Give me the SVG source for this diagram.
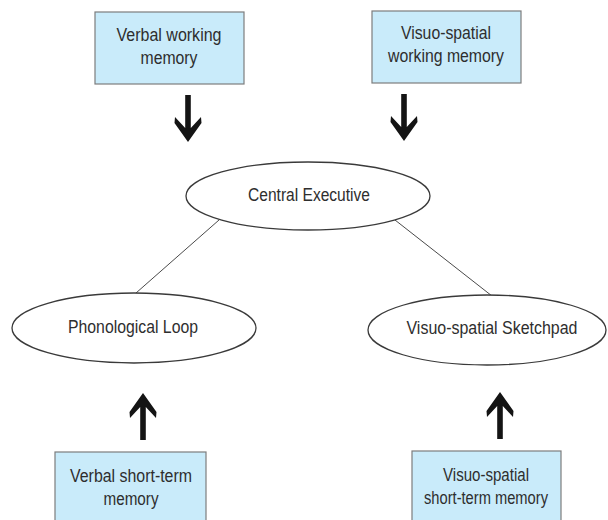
<svg xmlns="http://www.w3.org/2000/svg" xmlns:xlink="http://www.w3.org/1999/xlink" width="608" height="520" viewBox="0 0 608 520">
  <style>
    .box { fill: #c9ebfa; stroke: #7d7d7d; stroke-width: 1.2; }
    .oval { fill: #ffffff; stroke: #3a3a3a; stroke-width: 1.3; }
    .link { stroke: #4a4a4a; stroke-width: 1; fill: none; }
    .arrow { fill: #141414; }
    text { font-family: "Liberation Sans", Arial, sans-serif; font-size: 17.5px; fill: #2e2e2e; text-anchor: middle; }
  </style>
  <defs>
    <!-- heavy downward arrow with notched head; shaft top at 0, tip at 47 -->
    <path id="bigArrow" d="M-2.8,0 H2.8 V33 L13,22 L13.5,28 L0,47 L-13.5,28 L-13,22 L-2.8,33 Z"/>
  </defs>
  <rect width="608" height="520" fill="#ffffff"/>

  <g id="connectors">
    <line class="link" x1="219" y1="220" x2="136" y2="293"/>
    <line class="link" x1="395" y1="220" x2="492" y2="296"/>
    <use class="arrow" xlink:href="#bigArrow" transform="translate(188,95)"/>
    <use class="arrow" xlink:href="#bigArrow" transform="translate(404,94)"/>
    <use class="arrow" xlink:href="#bigArrow" transform="translate(143,440) scale(1,-1)"/>
    <use class="arrow" xlink:href="#bigArrow" transform="translate(500,439) scale(1,-1)"/>
  </g>

  <g id="verbal-working-memory">
    <rect class="box" x="95" y="12" width="149" height="72"/>
    <text x="169" y="41" textLength="105" lengthAdjust="spacingAndGlyphs">Verbal working</text>
    <text x="169" y="64" textLength="57" lengthAdjust="spacingAndGlyphs">memory</text>
  </g>

  <g id="visuo-spatial-working-memory">
    <rect class="box" x="372" y="11" width="149" height="72"/>
    <text x="446" y="39" textLength="90" lengthAdjust="spacingAndGlyphs">Visuo-spatial</text>
    <text x="446" y="62" textLength="116" lengthAdjust="spacingAndGlyphs">working memory</text>
  </g>

  <g id="central-executive">
    <ellipse class="oval" cx="308" cy="196" rx="122" ry="34"/>
    <text x="309" y="201" textLength="122" lengthAdjust="spacingAndGlyphs">Central Executive</text>
  </g>

  <g id="phonological-loop">
    <ellipse class="oval" cx="134" cy="328" rx="122" ry="35"/>
    <text x="133" y="333" textLength="130" lengthAdjust="spacingAndGlyphs">Phonological Loop</text>
  </g>

  <g id="visuo-spatial-sketchpad">
    <ellipse class="oval" cx="487" cy="330" rx="119" ry="35"/>
    <text x="492" y="334" textLength="171" lengthAdjust="spacingAndGlyphs">Visuo-spatial Sketchpad</text>
  </g>

  <g id="verbal-short-term-memory">
    <rect class="box" x="55" y="452" width="151" height="80"/>
    <text x="131" y="482" textLength="122" lengthAdjust="spacingAndGlyphs">Verbal short-term</text>
    <text x="131" y="505" textLength="55" lengthAdjust="spacingAndGlyphs">memory</text>
  </g>

  <g id="visuo-spatial-short-term-memory">
    <rect class="box" x="412" y="451" width="149" height="80"/>
    <text x="486" y="481" textLength="86" lengthAdjust="spacingAndGlyphs">Visuo-spatial</text>
    <text x="486" y="504" textLength="124" lengthAdjust="spacingAndGlyphs">short-term memory</text>
  </g>
</svg>
